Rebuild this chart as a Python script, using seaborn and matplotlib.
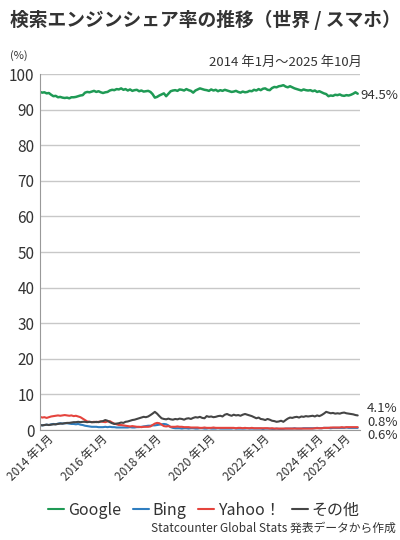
import pandas as pd
import matplotlib.pyplot as plt
import matplotlib.dates as mdates
import seaborn as sns

months = pd.date_range('2014-01-01', '2025-10-01', freq='MS')

google = [95.0, 94.8, 94.9, 94.6, 94.7, 94.2, 93.8, 93.9, 93.5, 93.6, 93.4, 93.3,
          93.4, 93.2, 93.5, 93.5, 93.6, 93.8, 94.0, 94.1, 94.8, 95.0, 94.9, 95.1,
          95.3, 95.0, 95.2, 94.9, 94.7, 94.9, 95.0, 95.4, 95.6, 95.5, 95.8, 95.7,
          96.0, 95.6, 95.8, 95.4, 95.7, 95.3, 95.5, 95.6, 95.2, 95.4, 95.1, 95.2,
          95.3, 95.0, 94.4, 93.4, 93.6, 94.0, 94.3, 94.6, 93.8, 94.5, 95.2, 95.4,
          95.5, 95.3, 95.7, 95.6, 95.4, 95.8, 95.5, 95.3, 94.8, 95.4, 95.7, 96.0,
          95.8, 95.6, 95.5, 95.3, 95.7, 95.4, 95.6, 95.2, 95.5, 95.3, 95.6, 95.4,
          95.2, 95.0, 95.1, 95.3, 95.0, 94.8, 95.1, 94.9, 95.0, 95.3, 95.2, 95.6,
          95.4, 95.8, 95.5, 95.9, 96.0, 95.6, 95.5, 96.1, 96.4, 96.3, 96.6, 96.7,
          96.9, 96.5, 96.3, 96.6, 96.3, 96.0, 95.8, 95.6, 95.4, 95.7, 95.5, 95.4,
          95.5, 95.2, 95.4, 95.0, 95.2, 94.9, 94.6, 94.4, 93.8, 94.0, 93.9, 94.2,
          94.1, 94.3, 94.0, 93.9, 94.1, 94.0, 94.2, 94.5, 94.9, 94.5]

bing = [1.4, 1.3, 1.4, 1.5, 1.4, 1.6, 1.7, 1.6, 1.8, 1.9, 1.8, 1.9,
        1.9, 1.8, 1.7, 1.7, 1.6, 1.7, 1.5, 1.4, 1.2, 1.1, 1.0, 0.9,
        0.9, 0.9, 0.8, 0.8, 0.8, 0.9, 0.8, 0.9, 0.8, 0.8, 0.7, 0.7,
        0.7, 0.7, 0.7, 0.7, 0.8, 0.7, 0.7, 0.8, 0.8, 0.9, 1.0, 1.1,
        1.2, 1.2, 1.3, 1.3, 1.4, 1.5, 1.6, 1.7, 1.6, 1.3, 0.8, 0.6,
        0.5, 0.5, 0.5, 0.4, 0.5, 0.5, 0.4, 0.5, 0.5, 0.4, 0.4, 0.5,
        0.5, 0.4, 0.4, 0.5, 0.4, 0.4, 0.4, 0.5, 0.4, 0.4, 0.4, 0.4,
        0.4, 0.4, 0.5, 0.4, 0.4, 0.4, 0.4, 0.4, 0.5, 0.4, 0.4, 0.4,
        0.4, 0.4, 0.4, 0.3, 0.4, 0.4, 0.4, 0.3, 0.3, 0.4, 0.3, 0.3,
        0.3, 0.4, 0.4, 0.4, 0.4, 0.5, 0.4, 0.4, 0.4, 0.5, 0.5, 0.5,
        0.5, 0.5, 0.5, 0.6, 0.5, 0.5, 0.6, 0.6, 0.6, 0.5, 0.6, 0.6,
        0.6, 0.6, 0.6, 0.6, 0.7, 0.6, 0.6, 0.6, 0.6, 0.6]

yahoo = [3.7, 3.5, 3.6, 3.4, 3.6, 3.8, 3.9, 4.0, 4.1, 4.0, 4.1, 4.2,
         4.1, 4.0, 4.1, 3.9, 4.0, 3.8, 3.6, 3.2, 2.8, 2.4, 2.3, 2.2,
         2.3, 2.2, 2.3, 2.4, 2.3, 2.2, 2.4, 2.5, 2.1, 1.8, 1.6, 1.4,
         1.4, 1.3, 1.2, 1.1, 1.0, 1.1, 1.0, 0.9, 0.9, 0.8, 0.9, 0.9,
         0.9, 1.0, 1.4, 1.8, 2.0, 1.9, 1.5, 1.1, 1.0, 1.1, 0.9, 0.9,
         0.9, 1.0, 0.9, 0.9, 0.8, 0.8, 0.8, 0.7, 0.7, 0.7, 0.7, 0.6,
         0.6, 0.7, 0.6, 0.6, 0.6, 0.7, 0.6, 0.6, 0.6, 0.6, 0.6, 0.6,
         0.6, 0.6, 0.6, 0.5, 0.6, 0.6, 0.5, 0.6, 0.5, 0.5, 0.6, 0.5,
         0.5, 0.5, 0.5, 0.5, 0.5, 0.5, 0.4, 0.5, 0.4, 0.4, 0.4, 0.4,
         0.4, 0.4, 0.4, 0.4, 0.4, 0.4, 0.4, 0.4, 0.4, 0.4, 0.4, 0.4,
         0.4, 0.4, 0.5, 0.5, 0.5, 0.5, 0.6, 0.6, 0.6, 0.7, 0.7, 0.7,
         0.7, 0.7, 0.8, 0.7, 0.8, 0.8, 0.8, 0.8, 0.8, 0.8]

other = [1.4, 1.3, 1.4, 1.5, 1.4, 1.5, 1.6, 1.6, 1.7, 1.8, 1.8, 1.9,
         2.0, 2.0, 2.1, 2.2, 2.2, 2.3, 2.2, 2.3, 2.3, 2.2, 2.3, 2.2,
         2.2, 2.3, 2.2, 2.4, 2.5, 2.8, 2.6, 2.2, 1.9, 1.7, 1.8, 1.9,
         2.1, 2.0, 2.3, 2.4, 2.6, 2.8, 2.9, 3.1, 3.3, 3.5, 3.7, 3.6,
         3.8, 4.2, 4.6, 5.1, 4.6, 3.9, 3.3, 3.1, 3.0, 3.2, 3.0, 2.9,
         3.1, 3.0, 3.2, 3.1, 2.9, 3.2, 3.3, 3.1, 3.4, 3.6, 3.5, 3.7,
         3.4, 3.3, 3.9, 3.7, 3.8, 3.6, 3.7, 3.9, 4.0, 3.8, 4.3, 4.5,
         4.2, 4.0, 4.3, 4.1, 4.2, 4.0, 4.3, 4.5, 4.3, 4.1, 3.9, 3.6,
         3.3, 3.5, 3.1, 3.0, 2.8, 3.1, 2.9, 2.6, 2.5, 2.3, 2.4, 2.6,
         2.3, 2.8, 3.2, 3.5, 3.4, 3.6, 3.7, 3.5, 3.8, 3.7, 3.9, 3.8,
         3.9, 4.0, 3.8, 4.1, 3.9, 4.2, 4.6, 5.1, 4.9, 4.7, 4.8, 4.6,
         4.7, 4.6, 4.8, 4.9, 4.7, 4.6, 4.5, 4.4, 4.2, 4.1]

engines = ['Google', 'Bing', 'Yahoo！', 'その他']
colors = ['#1f9a55', '#2f7ec0', '#e5443d', '#454545']
end_labels = ['94.5%', '4.1%', '0.8%', '0.6%']
tick_dates = ['2014-01-01', '2016-01-01', '2018-01-01', '2020-01-01',
              '2022-01-01', '2024-01-01', '2025-01-01']
tick_labels = ['2014 年1月', '2016 年1月', '2018 年1月', '2020 年1月',
               '2022 年1月', '2024 年1月', '2025 年1月']

df = pd.DataFrame({'month': months, 'Google': google, 'Bing': bing,
                   'Yahoo！': yahoo, 'その他': other})
long = df.melt(id_vars='month', var_name='engine', value_name='share')

sns.set_style('white')
plt.rcParams['font.family'] = ['Noto Sans CJK JP', 'DejaVu Sans']
txt = '#333333'

fig = plt.figure(figsize=(4, 5.4), dpi=100)
ax = fig.add_axes([0.1, 0.2037, 0.8, 0.659])

sns.lineplot(data=long, x='month', y='share', hue='engine', hue_order=engines,
             palette=colors, linewidth=1.5, legend=False, ax=ax)
ax.lines[0].set_linewidth(1.8)

ax.set_ylim(0, 100)
ax.set_xlim(pd.Timestamp('2014-01-01'), pd.Timestamp('2025-11-01'))
ax.set_yticks(range(0, 101, 10))
ax.yaxis.grid(True, color='#c8c8c8', linewidth=1)
ax.tick_params(axis='y', length=0, labelsize=11, labelcolor=txt, pad=4)

# x labels: rotated, ending a little right of each tick date
ax.set_xticks(pd.to_datetime(tick_dates))
ax.set_xticklabels([])
ax.tick_params(axis='x', which='major', length=0)
for d, lab in zip(pd.to_datetime(tick_dates), tick_labels):
    ax.annotate(lab, xy=(d, 0), xycoords=('data', 'axes fraction'),
                xytext=(5, -2), textcoords='offset points', rotation=45,
                ha='right', va='top', rotation_mode='anchor',
                fontsize=8.5, color=txt, annotation_clip=False)
ax.xaxis.set_minor_locator(mdates.MonthLocator(bymonth=[1, 7]))
ax.tick_params(axis='x', which='minor', direction='in', length=5,
               color='#bbbbbb', width=0.8)
for s in ['top', 'right']:
    ax.spines[s].set_visible(False)
ax.spines['left'].set_color('#999999')
ax.spines['bottom'].set_color('#999999')
ax.set_xlabel('')
ax.set_ylabel('')

# end-of-line values
fig.text(0.902, 0.823, end_labels[0], fontsize=9.5, color=txt, va='center')
fig.text(0.918, 0.243, end_labels[1], fontsize=9.5, color=txt, va='center')
fig.text(0.918, 0.218, end_labels[2], fontsize=9.5, color=txt, va='center')
fig.text(0.918, 0.193, end_labels[3], fontsize=9.5, color=txt, va='center')

fig.text(0.025, 0.963, '検索エンジンシェア率の推移（世界 / スマホ）',
         fontsize=13.5, fontweight='bold', color=txt, va='center')
fig.text(0.025, 0.898, '(%)', fontsize=8, color=txt, va='center')
fig.text(0.905, 0.885, '2014 年1月〜2025 年10月', fontsize=9.5, color=txt,
         ha='right', va='center')

handles = [plt.Line2D([], [], color=c, linewidth=1.5) for c in colors]
fig.legend(handles, engines, loc='center', bbox_to_anchor=(0.51, 0.055),
           ncol=4, frameon=False, fontsize=11.5, handlelength=1.0,
           handletextpad=0.25, columnspacing=0.7, labelcolor=txt)
fig.text(0.99, 0.022, 'Statcounter Global Stats 発表データから作成',
         fontsize=8.5, color=txt, ha='right', va='center')

fig.savefig('out.png', dpi=100)
